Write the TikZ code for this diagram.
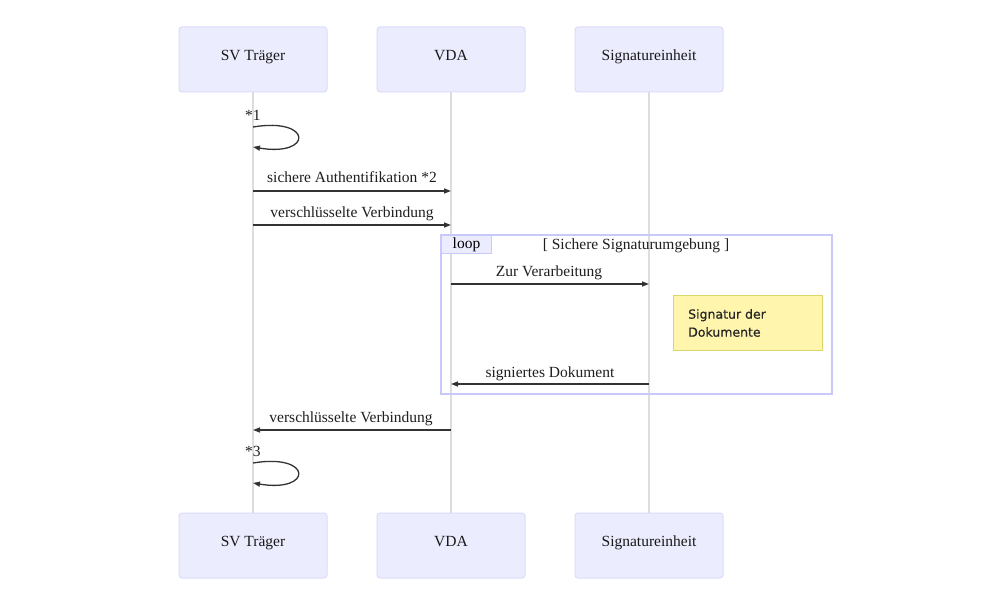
\documentclass[tikz,border=0pt]{standalone}
\usepackage{fontspec}
\setmainfont{Liberation Serif}
\newfontfamily\notefont[FakeBold=0.6]{DejaVu Sans}
\usetikzlibrary{arrows.meta}
\definecolor{actfill}{HTML}{ECECFF}
\definecolor{actdraw}{HTML}{DCDCFA}
\definecolor{lifecol}{HTML}{DDDDDD}
\definecolor{msgcol}{HTML}{333333}
\definecolor{notefill}{HTML}{FFF5AD}
\definecolor{notedraw}{HTML}{D8D86A}
\definecolor{framecol}{HTML}{C8C8FA}
\tikzset{
  actor/.style={draw=actdraw, fill=actfill, line width=1pt, rounded corners=3pt,
    minimum width=148pt, minimum height=65pt, inner sep=0pt,
    text height=11pt, text depth=9.5pt,
    font=\fontsize{15.5}{18}\selectfont, text=black!90},
  lifeline/.style={draw=lifecol, line width=1.3pt},
  msg/.style={draw=msgcol, line width=1.3pt, -{Triangle[length=7pt,width=5pt]}},
  msglabel/.style={font=\fontsize{15.5}{18}\selectfont, text=black!88, inner sep=0pt},
  notebox/.style={draw=notedraw, fill=notefill, line width=1pt, minimum width=149pt,
    minimum height=55pt, inner sep=0pt},
  loopframe/.style={draw=framecol, line width=1.6pt},
  looptag/.style={draw=framecol, fill=actfill, line width=1pt, minimum width=50pt,
    minimum height=18pt, inner sep=0pt, font=\fontsize{15.5}{18}\selectfont}
}
\begin{document}
\begin{tikzpicture}[x=1pt,y=-1pt]
\useasboundingbox (0,0) rectangle (983,593);
\fill[white] (0,0) rectangle (983,593);
% lifelines (behind)
\coordinate (la1) at (253,92); \coordinate (lb1) at (253,513);
\coordinate (la2) at (451,92); \coordinate (lb2) at (451,513);
\coordinate (la3) at (649,92); \coordinate (lb3) at (649,513);
\draw[lifeline] (la1) -- (lb1);
\draw[lifeline] (la2) -- (lb2);
\draw[lifeline] (la3) -- (lb3);
% actors
\node[actor] (sv)  at (253,59.5) {SV Träger};
\node[actor] (vda) at (451,59.5) {VDA};
\node[actor] (sig) at (649,59.5) {Signatureinheit};
\node[actor] (svb)  at (253,545.5) {SV Träger};
\node[actor] (vdab) at (451,545.5) {VDA};
\node[actor] (sigb) at (649,545.5) {Signatureinheit};
% self loop *1
\node[msglabel, anchor=south west] (l1) at (245,121) {*1};
\coordinate (s1a) at (253,127); \coordinate (s1b) at (253,147);
\draw[msg] (s1a) .. controls (313,117) and (313,157) .. (s1b);
% message 2
\coordinate (m2a) at (253,191); \coordinate (m2b) at (451,191);
\draw[msg] (m2a) -- (m2b);
\node[msglabel, anchor=base] (t2) at (352,183) {sichere Authentifikation *2};
% message 3
\coordinate (m3a) at (253,225); \coordinate (m3b) at (451,225);
\draw[msg] (m3a) -- (m3b);
\node[msglabel, anchor=base] (t3) at (352,218) {verschlüsselte Verbindung};
% loop frame
\draw[loopframe] (441,235) rectangle (832,394);
\node[looptag, anchor=north west] (tag) at (441,235) {loop};
\node[msglabel, anchor=base] (cond) at (636,250) {[ Sichere Signaturumgebung ]};
% message 4
\coordinate (m4a) at (451,284); \coordinate (m4b) at (649,284);
\draw[msg] (m4a) -- (m4b);
\node[msglabel, anchor=base] (t4) at (549,277) {Zur Verarbeitung};
% note
\node[notebox, anchor=north west] (note) at (673,295) {};
\node[anchor=west, inner sep=0pt, align=left, font=\notefont\fontsize{12.5}{18}\selectfont, text=black!85] (notet) at (688,323) {Signatur der\\Dokumente};
% message 5
\coordinate (m5a) at (649,384); \coordinate (m5b) at (451,384);
\draw[msg] (m5a) -- (m5b);
\node[msglabel, anchor=base] (t5) at (550,378) {signiertes Dokument};
% message 6
\coordinate (m6a) at (451,430); \coordinate (m6b) at (253,430);
\draw[msg] (m6a) -- (m6b);
\node[msglabel, anchor=base] (t6) at (351,423) {verschlüsselte Verbindung};
% self loop *3
\node[msglabel, anchor=south west] (l3) at (245,457) {*3};
\coordinate (s3a) at (253,463); \coordinate (s3b) at (253,483);
\draw[msg] (s3a) .. controls (313,453) and (313,493) .. (s3b);
\end{tikzpicture}
\end{document}
